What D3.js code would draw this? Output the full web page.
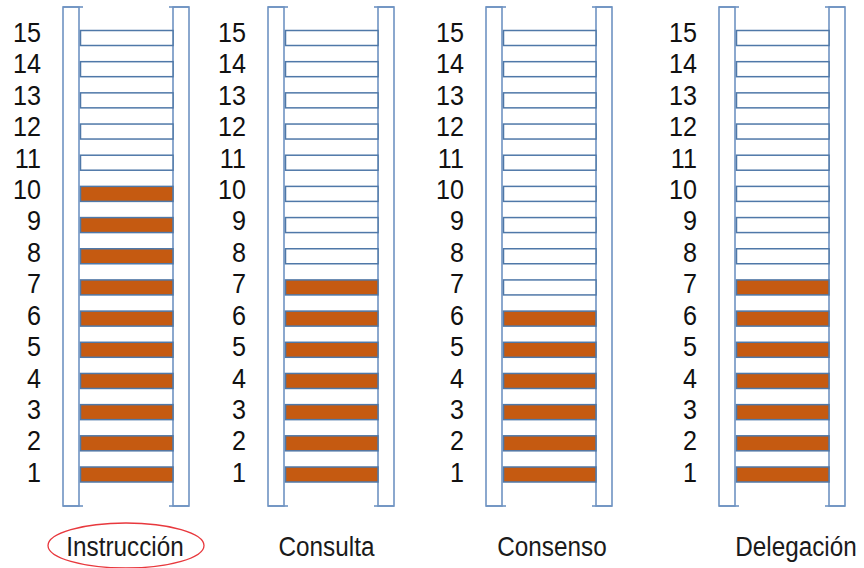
<!DOCTYPE html>
<html><head><meta charset="utf-8">
<script src="https://cdn.jsdelivr.net/npm/d3@7"></script>
<style>body{margin:0;background:#fff}svg{display:block}</style>
</head><body>
<svg id="c" width="864" height="568"></svg>
<script>
const categories = ["Instrucción", "Consulta", "Consenso", "Delegación"];
const values = [10, 7, 6, 7];
const levels = d3.range(1, 16);
const tickLabels = levels.map(String);
const highlighted = "Instrucción";

const svg = d3.select("#c");

// layout
const ladderX = d3.scaleOrdinal().domain(categories).range([63, 268, 486, 719]);
const labelX = d3.scaleOrdinal().domain(categories).range([125, 326.5, 552, 796]);
const rungY = d3.scaleLinear().domain([1, 15]).range([474.5, 38]);
const tickY = d3.scaleLinear().domain([1, 15]).range([472, 32]);
const railW = 16, rungX0 = 17.5, rungX1 = 110, railTop = 7, railBot = 506, rungH = 15;
const railColor = "#6f93c2", rungStroke = "#4f78a8", fillColor = "#c55a11";

const g = svg.selectAll("g.ladder").data(categories).join("g")
  .attr("class", "ladder")
  .attr("transform", d => `translate(${ladderX(d)},0)`);

// rails
[0, rungX1].forEach((x0, i) => {
  g.append("rect").attr("x", x0).attr("y", railTop).attr("width", railW).attr("height", railBot - railTop)
    .attr("fill", "#fff").attr("stroke", railColor).attr("stroke-width", 1.6);
  const cx0 = i === 0 ? x0 : x0 - 4, cx1 = i === 0 ? x0 + railW + 4 : x0 + railW;
  [railTop, railBot].forEach(y => {
    g.append("line").attr("x1", cx0).attr("x2", cx1).attr("y1", y).attr("y2", y)
      .attr("stroke", railColor).attr("stroke-width", 1.6);
  });
});

// rungs
g.each(function(cat, ci) {
  const v = values[ci];
  d3.select(this).selectAll("rect.rung").data(levels).join("rect")
    .attr("class", "rung")
    .attr("x", rungX0).attr("width", rungX1 - rungX0)
    .attr("y", d => rungY(d) - rungH / 2).attr("height", rungH)
    .attr("fill", d => d <= v ? fillColor : "#fff")
    .attr("stroke", rungStroke).attr("stroke-width", 1.5);
  // tick labels
  d3.select(this).selectAll("text.tick").data(tickLabels).join("text")
    .attr("class", "tick")
    .attr("transform", (d, i) => `translate(-22,${tickY(levels[i]) + 9.9}) scale(1,1.1)`)
    .attr("text-anchor", "end")
    .attr("font-family", "Liberation Sans, Arial, sans-serif")
    .attr("font-size", 25.2).attr("fill", "#111")
    .text(d => d);
});

// category labels
svg.selectAll("text.cat").data(categories).join("text")
  .attr("class", "cat")
  .attr("transform", d => `translate(${labelX(d)},556) scale(1,1.1)`)
  .attr("text-anchor", "middle")
  .attr("font-family", "Liberation Sans, Arial, sans-serif")
  .attr("font-size", 24.3).attr("fill", "#1a1a1a")
  .text(d => d);

// highlight ellipse
svg.append("ellipse")
  .attr("cx", labelX(highlighted) + 1).attr("cy", 545.5)
  .attr("rx", 78).attr("ry", 22.5)
  .attr("fill", "none").attr("stroke", "#e8383d").attr("stroke-width", 1.3);
</script>
</body></html>
